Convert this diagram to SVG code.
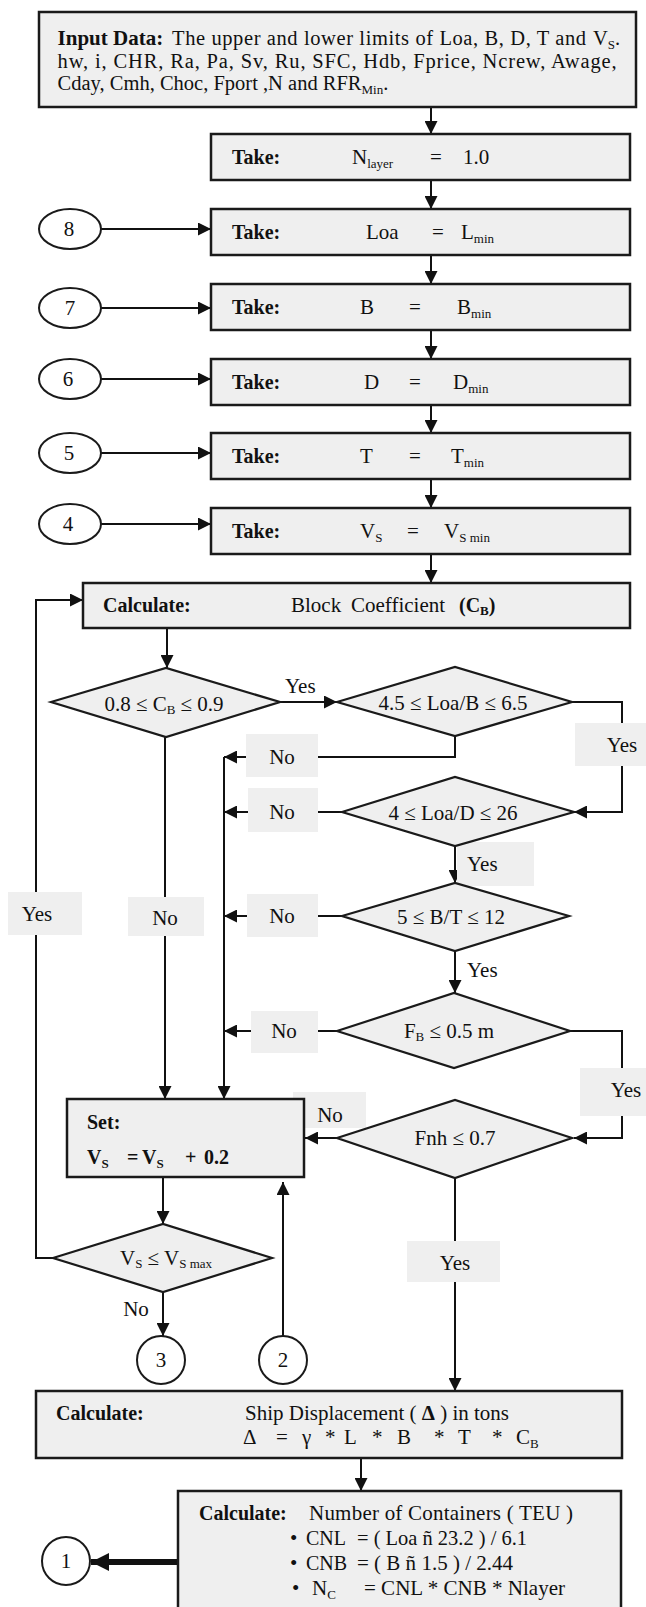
<svg xmlns="http://www.w3.org/2000/svg" width="646" height="1607" viewBox="0 0 646 1607">
<style>
text{font-family:"Liberation Serif","Times New Roman",serif;font-size:21px;fill:#111}
.b{font-weight:bold;font-size:20px}
.box{fill:#efefef;stroke:#1a1a1a;stroke-width:2.5}
.dia{fill:#efefef;stroke:#1a1a1a;stroke-width:2.2}
.ln{fill:none;stroke:#111;stroke-width:2}
.thick{fill:none;stroke:#111;stroke-width:6}
.lbl{fill:#efefef;stroke:none}
.ell{fill:#fff;stroke:#1a1a1a;stroke-width:2}
.m{text-anchor:middle}
</style>
<defs>
<marker id="ah" viewBox="0 0 12 12" refX="12" refY="6" markerWidth="13" markerHeight="13" markerUnits="userSpaceOnUse" orient="auto"><path d="M0,0 L12,6 L0,12 z" fill="#111"/></marker>
<marker id="ahb" viewBox="0 0 12 12" refX="12" refY="6" markerWidth="18" markerHeight="18" markerUnits="userSpaceOnUse" orient="auto"><path d="M0,0 L12,6 L0,12 z" fill="#111"/></marker>
</defs>
<rect width="646" height="1607" fill="#fff"/>

<g id="connectors">
<path class="ln" marker-end="url(#ah)" d="M431,107 V134"/>
<path class="ln" marker-end="url(#ah)" d="M431,180 V209"/>
<path class="ln" marker-end="url(#ah)" d="M431,255 V284"/>
<path class="ln" marker-end="url(#ah)" d="M431,330 V359"/>
<path class="ln" marker-end="url(#ah)" d="M431,405 V433"/>
<path class="ln" marker-end="url(#ah)" d="M431,479 V508"/>
<path class="ln" marker-end="url(#ah)" d="M431,554 V583"/>
<path class="ln" marker-end="url(#ah)" d="M101,229 H211"/>
<path class="ln" marker-end="url(#ah)" d="M101,308 H211"/>
<path class="ln" marker-end="url(#ah)" d="M101,379 H211"/>
<path class="ln" marker-end="url(#ah)" d="M101,453 H211"/>
<path class="ln" marker-end="url(#ah)" d="M101,524 H211"/>
<path class="ln" marker-end="url(#ah)" d="M167,628 V668"/>
<path class="ln" marker-end="url(#ah)" d="M280,702 H337"/>
<path class="ln" marker-end="url(#ah)" d="M572,702 H622 V812 H574"/>
<path class="ln" marker-end="url(#ah)" d="M455,736 V757 H224"/>
<path class="ln" marker-end="url(#ah)" d="M224,757 V1099"/>
<path class="ln" marker-end="url(#ah)" d="M342,812 H224"/>
<path class="ln" marker-end="url(#ah)" d="M455,846 V883"/>
<path class="ln" marker-end="url(#ah)" d="M342,916 H224"/>
<path class="ln" marker-end="url(#ah)" d="M455,951 V993"/>
<path class="ln" marker-end="url(#ah)" d="M337,1031 H224"/>
<path class="ln" marker-end="url(#ah)" d="M570,1031 H622 V1138 H574"/>
<path class="ln" marker-end="url(#ah)" d="M337,1138 H305"/>
<path class="ln" marker-end="url(#ah)" d="M455,1178 V1391"/>
<path class="ln" marker-end="url(#ah)" d="M165,737 V1099"/>
<path class="ln" marker-end="url(#ah)" d="M163,1177 V1224"/>
<path class="ln" marker-end="url(#ah)" d="M53,1258 H36 V600 H83"/>
<path class="ln" marker-end="url(#ah)" d="M163,1292 V1336"/>
<path class="ln" marker-end="url(#ah)" d="M283,1336 V1182"/>
<path class="ln" marker-end="url(#ah)" d="M361,1458 V1491"/>
<path class="thick" marker-end="url(#ahb)" d="M178,1562 H91"/>

<rect class="lbl" x="575" y="723" width="71" height="43"/>
<text class="m" x="622" y="752">Yes</text>
<rect class="lbl" x="246" y="734" width="72" height="43"/>
<text class="m" x="282" y="764">No</text>
<rect class="lbl" x="248" y="788" width="70" height="44"/>
<text class="m" x="282" y="819">No</text>
<rect class="lbl" x="457" y="842" width="77" height="44"/>
<text x="467" y="871">Yes</text>
<rect class="lbl" x="247" y="894" width="71" height="43"/>
<text class="m" x="282" y="923">No</text>
<text x="467" y="977">Yes</text>
<rect class="lbl" x="251" y="1011" width="67" height="42"/>
<text class="m" x="284" y="1038">No</text>
<rect class="lbl" x="580" y="1068" width="66" height="48"/>
<text class="m" x="626" y="1097">Yes</text>
<rect class="lbl" x="293" y="1092" width="73" height="36"/>
<text class="m" x="330" y="1122">No</text>
<rect class="lbl" x="407" y="1241" width="93" height="41"/>
<text class="m" x="455" y="1270">Yes</text>
<rect class="lbl" x="8" y="892" width="74" height="43"/>
<text class="m" x="37" y="921">Yes</text>
<rect class="lbl" x="128" y="897" width="76" height="39"/>
<text class="m" x="165" y="925">No</text>
<text x="285" y="693">Yes</text>
<text class="m" x="136" y="1316">No</text>
</g>

<g id="input">
<rect class="box" x="39" y="12" width="597" height="95"/>
<text x="57.6" y="45" style="font-weight:bold;font-size:21px">Input Data:</text>
<text x="172" y="45" style="font-size:20.5px" textLength="414" lengthAdjust="spacing">The upper and lower limits of Loa, B, D, T  and</text>
<text x="593" y="45" style="font-size:20.5px">V<tspan font-size="13" dy="4">S</tspan><tspan dy="-4">.</tspan></text>
<text x="57.6" y="68" style="font-size:20.5px" textLength="559" lengthAdjust="spacing">hw, i, CHR, Ra, Pa, Sv, Ru, SFC, Hdb, Fprice, Ncrew, Awage,</text>
<text x="57.6" y="90" style="font-size:20.5px">Cday, Cmh, Choc, Fport ,N and RFR<tspan font-size="13" dy="4">Min</tspan><tspan dy="-4">.</tspan></text>
</g>

<g id="take_nlayer">
<rect class="box" x="211" y="134" width="419" height="46"/>
<text class="b" x="232" y="164">Take:</text>
<text x="352" y="164">N<tspan font-size="13" dy="4">layer</tspan></text>
<text x="430" y="164">=</text>
<text x="463" y="164">1.0</text>
</g>

<g id="take_loa">
<rect class="box" x="211" y="209" width="419" height="46"/>
<text class="b" x="232" y="239">Take:</text>
<text x="366" y="239">Loa</text>
<text x="432" y="239">=</text>
<text x="461" y="239">L<tspan font-size="13" dy="4">min</tspan></text>
</g>

<g id="take_b">
<rect class="box" x="211" y="284" width="419" height="46"/>
<text class="b" x="232" y="314">Take:</text>
<text x="360" y="314">B</text>
<text x="409" y="314">=</text>
<text x="457" y="314">B<tspan font-size="13" dy="4">min</tspan></text>
</g>

<g id="take_d">
<rect class="box" x="211" y="359" width="419" height="46"/>
<text class="b" x="232" y="389">Take:</text>
<text x="364" y="389">D</text>
<text x="409" y="389">=</text>
<text x="453" y="389">D<tspan font-size="13" dy="4">min</tspan></text>
</g>

<g id="take_t">
<rect class="box" x="211" y="433" width="419" height="46"/>
<text class="b" x="232" y="463">Take:</text>
<text x="360" y="463">T</text>
<text x="409" y="463">=</text>
<text x="451" y="463">T<tspan font-size="13" dy="4">min</tspan></text>
</g>

<g id="take_vs">
<rect class="box" x="211" y="508" width="419" height="46"/>
<text class="b" x="232" y="538">Take:</text>
<text x="360" y="538">V<tspan font-size="13" dy="4">S</tspan></text>
<text x="407" y="538">=</text>
<text x="444" y="538">V<tspan font-size="13" dy="4">S min</tspan></text>
</g>

<g id="c8"><ellipse class="ell" cx="70" cy="229" rx="31" ry="20"/><text class="m" x="69" y="236">8</text></g>
<g id="c7"><ellipse class="ell" cx="70" cy="308" rx="31" ry="20"/><text class="m" x="70" y="315">7</text></g>
<g id="c6"><ellipse class="ell" cx="70" cy="379" rx="31" ry="20"/><text class="m" x="68" y="386">6</text></g>
<g id="c5"><ellipse class="ell" cx="70" cy="453" rx="31" ry="20"/><text class="m" x="69" y="460">5</text></g>
<g id="c4"><ellipse class="ell" cx="70" cy="524" rx="31" ry="20"/><text class="m" x="68" y="531">4</text></g>

<g id="calc_cb">
<rect class="box" x="83" y="583" width="547" height="45"/>
<text class="b" x="103" y="612">Calculate:</text>
<text x="291" y="612">Block</text>
<text x="351" y="612">Coefficient</text>
<text class="b" x="459" y="612">(C<tspan font-size="13" dy="3">B</tspan><tspan dy="-3">)</tspan></text>
</g>

<g id="d_cb">
<polygon class="dia" points="51,702 166,668 280,702 166,737"/>
<text class="m" x="164" y="711">0.8 ≤ C<tspan font-size="13" dy="3">B</tspan><tspan dy="-3"> ≤ 0.9</tspan></text>
</g>
<g id="d_loab">
<polygon class="dia" points="337,702 455,667 572,702 455,736"/>
<text class="m" x="453" y="710">4.5 ≤ Loa/B ≤ 6.5</text>
</g>
<g id="d_load">
<polygon class="dia" points="342,812 455,777 574,812 455,846"/>
<text class="m" x="453" y="820">4 ≤ Loa/D ≤ 26</text>
</g>
<g id="d_bt">
<polygon class="dia" points="342,916 455,883 569,916 455,951"/>
<text class="m" x="451" y="924">5 ≤ B/T ≤ 12</text>
</g>
<g id="d_fb">
<polygon class="dia" points="337,1031 454,993 570,1031 454,1068"/>
<text class="m" x="449" y="1038">F<tspan font-size="13" dy="3">B</tspan><tspan dy="-3"> ≤ 0.5 m</tspan></text>
</g>
<g id="d_fnh">
<polygon class="dia" points="337,1138 455,1100 572,1138 455,1178"/>
<text class="m" x="455" y="1145">Fnh ≤ 0.7</text>
</g>

<g id="set_vs">
<rect class="box" x="67" y="1099" width="237" height="78"/>
<text class="b" x="87" y="1129">Set:</text>
<text class="b" x="87" y="1164">V<tspan font-size="13" dy="4">S</tspan></text>
<text class="b" x="127" y="1164">=</text>
<text class="b" x="142" y="1164">V<tspan font-size="13" dy="4">S</tspan></text>
<text class="b" x="185" y="1164">+</text>
<text class="b" x="204" y="1164">0.2</text>
</g>

<g id="d_vsmax">
<polygon class="dia" points="53,1258 163,1224 272,1258 163,1292"/>
<text class="m" x="166" y="1265">V<tspan font-size="13" dy="3">S</tspan><tspan dy="-3"> ≤ V</tspan><tspan font-size="13" dy="3">S max</tspan></text>
</g>

<g id="c3"><circle class="ell" cx="161" cy="1360" r="24"/><text class="m" x="161" y="1367">3</text></g>
<g id="c2"><circle class="ell" cx="283" cy="1360" r="24"/><text class="m" x="283" y="1367">2</text></g>

<g id="calc_disp">
<rect class="box" x="36" y="1391" width="586" height="67"/>
<text class="b" x="56" y="1420">Calculate:</text>
<text x="245" y="1420">Ship Displacement ( <tspan font-weight="bold">Δ</tspan> ) in tons</text>
<text x="243" y="1444">Δ</text>
<text x="276" y="1444">=</text>
<text x="302" y="1444">γ</text>
<text x="325" y="1444">*</text>
<text x="344" y="1444">L</text>
<text x="372" y="1444">*</text>
<text x="397" y="1444">B</text>
<text x="434" y="1444">*</text>
<text x="458" y="1444">T</text>
<text x="492" y="1444">*</text>
<text x="516" y="1444">C<tspan font-size="13" dy="4">B</tspan></text>
</g>

<g id="calc_teu">
<rect class="box" x="178" y="1491" width="443" height="130"/>
<text class="b" x="199" y="1520">Calculate:</text>
<text x="309" y="1520" textLength="264" lengthAdjust="spacing">Number of  Containers  ( TEU )</text>
<text x="290" y="1545">•</text>
<text x="306" y="1545" style="font-size:20px">CNL</text>
<text x="357" y="1545" textLength="170" lengthAdjust="spacingAndGlyphs">= ( Loa ñ 23.2 ) / 6.1</text>
<text x="290" y="1570">•</text>
<text x="306" y="1570" style="font-size:20px">CNB</text>
<text x="357" y="1570" textLength="156" lengthAdjust="spacingAndGlyphs">= ( B ñ 1.5 ) / 2.44</text>
<text x="292" y="1595">•</text>
<text x="312" y="1595">N<tspan font-size="13" dy="4">C</tspan></text>
<text x="364" y="1595" textLength="201" lengthAdjust="spacingAndGlyphs">= CNL * CNB *  Nlayer</text>
</g>

<g id="c1"><circle class="ell" cx="66" cy="1561" r="24"/><text class="m" x="66" y="1568">1</text></g>
</svg>
